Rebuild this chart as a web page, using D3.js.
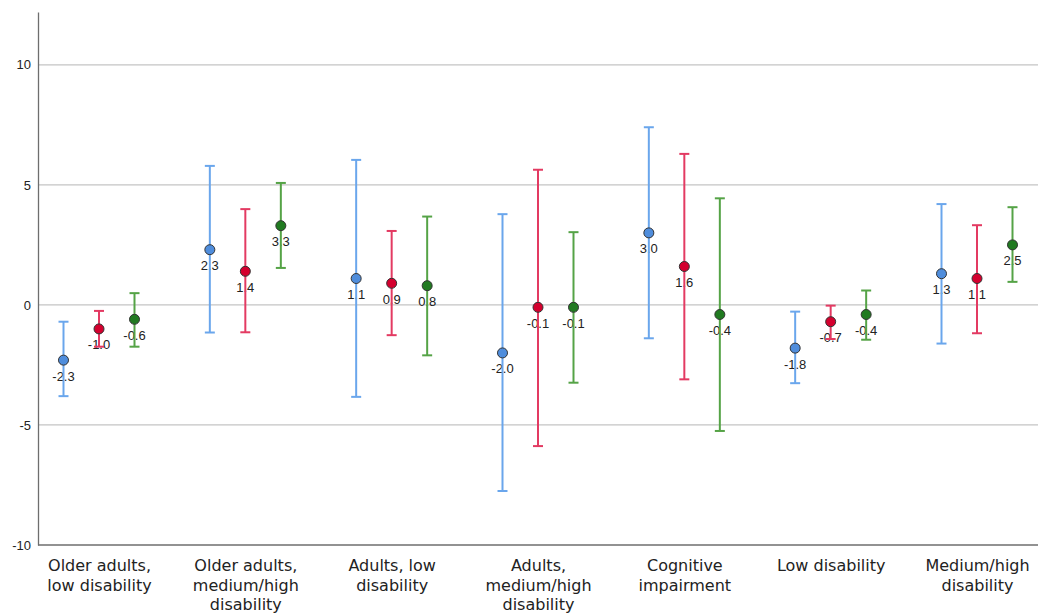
<!DOCTYPE html>
<html><head><meta charset="utf-8">
<script src="https://cdn.jsdelivr.net/npm/d3@7"></script>
<style>body{margin:0;background:#fff}svg{display:block}</style>
</head><body>
<svg id="c" width="1038" height="614"></svg>
<script>
const categories = [
  ["Older adults,","low disability"],
  ["Older adults,","medium/high","disability"],
  ["Adults, low","disability"],
  ["Adults,","medium/high","disability"],
  ["Cognitive","impairment"],
  ["Low disability"],
  ["Medium/high","disability"]
];
const seriesNames = ["A","B","C"];
const meanA = [-2.3, 2.3, 1.1, -2.0, 3.0, -1.8, 1.3];
const lowA  = [-3.8, -1.15, -3.83, -7.75, -1.39, -3.26, -1.61];
const highA = [-0.7, 5.79, 6.04, 3.78, 7.4, -0.28, 4.2];
const meanB = [-1.0, 1.4, 0.9, -0.1, 1.6, -0.7, 1.1];
const lowB  = [-1.74, -1.14, -1.26, -5.88, -3.1, -1.42, -1.18];
const highB = [-0.25, 3.99, 3.08, 5.63, 6.29, -0.03, 3.32];
const meanC = [-0.6, 3.3, 0.8, -0.1, -0.4, -0.4, 2.5];
const lowC  = [-1.74, 1.54, -2.1, -3.24, -5.25, -1.45, 0.96];
const highC = [0.49, 5.08, 3.68, 3.03, 4.44, 0.6, 4.07];
const yTicks = [-10, -5, 0, 5, 10];

const lineColors = ["#6aa6ec", "#e33a62", "#55a346"];
const fillColors = ["#4f8ddc", "#d4002e", "#217a21"];
const series = [
  {mean: meanA, low: lowA, high: highA},
  {mean: meanB, low: lowB, high: highB},
  {mean: meanC, low: lowC, high: highC}
];
const fmt = v => v.toFixed(1);
const catFont = "DejaVu Sans, Verdana, sans-serif";
const numFont = "Liberation Sans, Arial, sans-serif";

const svg = d3.select("#c");
const idx = d3.range(categories.length);
const x = d3.scalePoint().domain(idx).range([99, 977]);
const off = d3.scalePoint().domain([0,1,2]).range([-35.5, 35.5]);
const y = d3.scaleLinear().domain([-10, 12.2]).range([545, 12]);

// gridlines
svg.append("g").selectAll("line").data(yTicks.filter(t => t !== -10)).join("line")
  .attr("x1", 38).attr("x2", 1038)
  .attr("y1", d => y(d)).attr("y2", d => y(d))
  .attr("stroke", "#c4c4c4").attr("stroke-width", 1.2);

// y axis
const yAxis = d3.axisLeft(y).tickValues(yTicks).tickSize(0).tickPadding(7).tickFormat(d => String(d));
const gy = svg.append("g").attr("transform", "translate(38,0)").call(yAxis);
gy.select(".domain").attr("stroke", "#6e6e6e").attr("stroke-width", 1.3);
gy.selectAll("text").attr("font-family", numFont).attr("font-size", 13).attr("fill", "#222");

// x axis
const gx = svg.append("g").attr("transform", "translate(0,545)")
  .call(d3.axisBottom(x).tickSize(0).tickFormat(""));
gx.select(".domain").attr("d", "M38,0H1038").attr("stroke", "#6e6e6e").attr("stroke-width", 1.3);
gx.selectAll(".tick").each(function(d) {
  const t = d3.select(this).select("text").text(null)
    .attr("y", 0).attr("dy", null)
    .attr("font-family", catFont).attr("font-size", 16).attr("fill", "#222");
  categories[d].forEach((ln, i) => {
    t.append("tspan").attr("x", 0).attr("y", 26 + i * 19.5).text(ln);
  });
});

// series
series.forEach((s, si) => {
  const g = svg.append("g");
  const xs = i => x(i) + off(si);
  // labels (under whiskers)
  g.selectAll("text.lbl").data(idx).join("text").attr("class", "lbl")
    .attr("x", i => xs(i)).attr("y", i => y(s.mean[i]) + 20.5)
    .attr("text-anchor", "middle")
    .attr("font-family", numFont).attr("font-size", 13).attr("fill", "#222")
    .text(i => fmt(s.mean[i]));
  g.selectAll("line.v").data(idx).join("line").attr("class", "v")
    .attr("x1", xs).attr("x2", xs)
    .attr("y1", i => y(s.high[i])).attr("y2", i => y(s.low[i]))
    .attr("stroke", lineColors[si]).attr("stroke-width", 2);
  ["high", "low"].forEach(k => {
    g.selectAll("line.c" + k).data(idx).join("line").attr("class", "c" + k)
      .attr("x1", i => xs(i) - 5).attr("x2", i => xs(i) + 5)
      .attr("y1", i => y(s[k][i])).attr("y2", i => y(s[k][i]))
      .attr("stroke", lineColors[si]).attr("stroke-width", 2);
  });
  g.selectAll("circle").data(idx).join("circle")
    .attr("cx", xs).attr("cy", i => y(s.mean[i])).attr("r", 5)
    .attr("fill", fillColors[si]).attr("stroke", "#333").attr("stroke-width", 1);
});
</script>
</body></html>
